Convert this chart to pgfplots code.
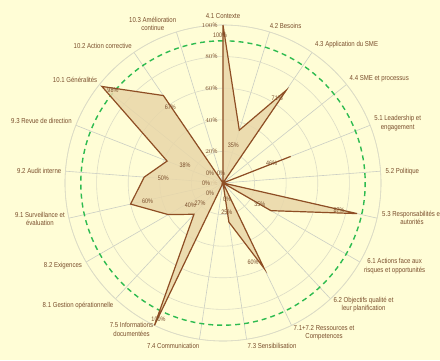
\documentclass[border=0pt]{standalone}
\usepackage{fontspec}
\setmainfont{Liberation Sans}[FakeStretch=0.84]
\usepackage{pgfplots}
\usepackage{pgfplotstable}
\pgfplotsset{compat=1.18}
\usepgfplotslibrary{polar}

\definecolor{bg}{HTML}{FFFDD6}
\definecolor{ringc}{HTML}{DCDCC6}
\definecolor{spokec}{HTML}{CBCEC4}
\definecolor{edgec}{HTML}{8E4E24}
\definecolor{areac}{HTML}{E9D7A9}
\definecolor{targetc}{HTML}{2EBB50}
\definecolor{txtc}{HTML}{7A4E2C}

% i = clause index (clockwise from the top), v = score in %
% dx, dy = offset of the value label from its vertex, in pt
\pgfplotstableread{
i  v    dx   dy   lab
0  100  -3   -10  100\%
1  35   -6   -15  35\%
2  71   -9   -8   71\%
3  0    -2   10   0\%
4  46   -19  -7   46\%
5  0    -17  0    0\%
6  87   -18  3    87\%
7  35   -11  6    35\%
8  0    -13  -10  0\%
9  60   -11  6    60\%
10 25   -2   10   25\%
11 0    4    -16  0\%
12 100  4    6    100\%
13 27   6    11   27\%
14 40   22   9    40\%
15 60   17   3    60\%
16 50   19   -1   50\%
17 38   18   -4   38\%
18 98   11   -4   98\%
19 67   7    -12  67\%
20 0    -13  10   0\%
21 100  0    0    {}
}\scores

% clause name at the outer ring: anchor, x shift, y shift
\pgfplotsset{
  clause/.style n args={3}{draw=none, mark=none, nodes near coords,
    point meta=explicit symbolic,
    nodes near coords style={anchor=#1, shift={(#2pt,#3pt)}, align=center,
      font=\fontsize{7.2}{8.4}\selectfont, text=txtc, inner sep=0pt}},
}

\begin{document}
\begin{tikzpicture}[x=1pt,y=1pt]
\useasboundingbox (0,0) rectangle (440,360);
\fill[bg] (0,0) rectangle (440,360);
\begin{polaraxis}[
  at={(223pt,177pt)}, anchor=origin,
  scale only axis, width=316pt, height=316pt,
  xmin=90, xmax=450, ymin=0, ymax=100,
  xtick={90,107.143,124.286,141.429,158.571,175.714,192.857,210,227.143,244.286,261.429,278.571,295.714,312.857,330,347.143,364.286,381.429,398.571,415.714,432.857},
  xticklabels={,,},
  ytick={0,20,40,60,80,100},
  yticklabel={\pgfmathprintnumber{\tick}\%},
  yticklabel style={font=\fontsize{6.5}{7}\selectfont, text=txtc, anchor=east, xshift=-2pt},
  extra y ticks={90},
  extra y tick labels={},
  extra y tick style={grid=major,
    major grid style={targetc, line width=1.4pt, dash pattern=on 5pt off 4pt},
    y grid style={targetc, line width=1.4pt, dash pattern=on 5pt off 4pt}},
  grid=major,
  x grid style={spokec, line width=0.6pt},
  y grid style={ringc, line width=0.6pt},
  axis line style={ringc, line width=0.6pt},
  major tick length=0pt,
  clip=false,
]
\addplot[draw=edgec, line width=1.2pt, fill=areac, fill opacity=0.85, mark=none]
  table[x expr=450-\thisrow{i}*360/21, y=v] {\scores};
\addplot[draw=none, mark=none, nodes near coords, point meta=explicit symbolic,
  visualization depends on={\thisrow{dx}\as\dx},
  visualization depends on={\thisrow{dy}\as\dy},
  nodes near coords style={anchor=center, shift={(\dx pt,\dy pt)},
    font=\fontsize{6.5}{7}\selectfont, text=txtc, inner sep=0pt}]
  table[x expr=450-\thisrow{i}*360/21, y=v, meta=lab] {\scores};
% clause names
\addplot[clause={south}{0}{6}]        coordinates {(90,100) [4.1 Contexte]};
\addplot[clause={south west}{0}{3}]   coordinates {(72.857,100) [4.2 Besoins]};
\addplot[clause={south west}{3}{4}]   coordinates {(55.714,100) [4.3 Application du SME]};
\addplot[clause={south west}{3}{2}]   coordinates {(38.571,100) [4.4 SME et processus]};
\addplot[clause={west}{4}{2}]         coordinates {(21.429,100) [{5.1 Leadership et\\engagement}]};
\addplot[clause={west}{5}{0}]         coordinates {(4.286,100) [5.2 Politique]};
\addplot[clause={west}{5}{0}]         coordinates {(-12.857,100) [{5.3 Responsabilités et\\autorités}]};
\addplot[clause={west}{4}{-4}]        coordinates {(-30,100) [{6.1 Actions face aux\\risques et opportunités}]};
\addplot[clause={north west}{3}{2}]   coordinates {(-47.143,100) [{6.2 Objectifs qualité et\\leur planification}]};
\addplot[clause={north west}{2}{0}]   coordinates {(-64.286,100) [{7.1+7.2 Ressources et\\Competences}]};
\addplot[clause={north west}{1}{-4}]  coordinates {(-81.429,100) [7.3 Sensibilisation]};
\addplot[clause={north east}{0}{-4}]  coordinates {(-98.571,100) [7.4 Communication]};
\addplot[clause={north east}{-1}{3}]  coordinates {(-115.714,100) [{7.5 Informations\\documentées}]};
\addplot[clause={north east}{-2}{-3}] coordinates {(-132.857,100) [8.1 Gestion opérationnelle]};
\addplot[clause={east}{-4}{-4}]       coordinates {(-150,100) [8.2 Exigences]};
\addplot[clause={east}{-4}{-1}]       coordinates {(-167.143,100) [{9.1 Surveillance et\\évaluation}]};
\addplot[clause={east}{-4}{0}]        coordinates {(175.714,100) [9.2 Audit interne]};
\addplot[clause={east}{-4}{4}]        coordinates {(158.571,100) [9.3 Revue de direction]};
\addplot[clause={south east}{-2}{2}]  coordinates {(141.429,100) [10.1 Généralités]};
\addplot[clause={south east}{-2}{4}]  coordinates {(124.286,100) [10.2 Action corrective]};
\addplot[clause={south east}{0}{1}]   coordinates {(107.143,100) [{10.3 Amélioration\\continue}]};
\end{polaraxis}
\end{tikzpicture}
\end{document}
